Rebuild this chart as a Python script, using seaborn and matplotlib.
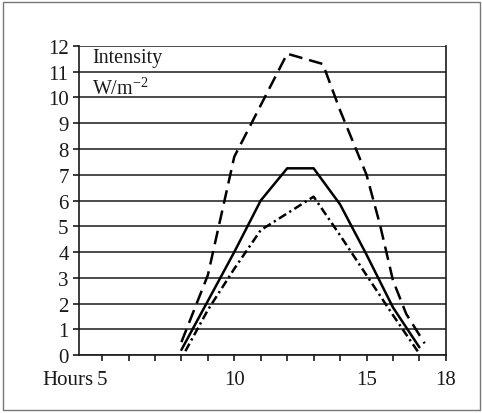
import matplotlib
matplotlib.use("Agg")
import matplotlib.pyplot as plt
from matplotlib.patches import Rectangle
import numpy as np
import pandas as pd
import seaborn as sns

# ---- data ----
hours_dashed = [8, 9, 10, 12, 13.35, 14, 15, 15.5, 16, 16.5, 17.2]
intensity_dashed = [0.5, 3.1, 7.7, 11.7, 11.3, 9.5, 7.0, 5.1, 2.9, 1.6, 0.45]

hours_solid = [8, 9, 10, 11, 12, 13, 14, 15, 16, 17]
intensity_solid = [0.2, 2.1, 4.0, 6.0, 7.25, 7.25, 5.85, 3.9, 1.85, 0.3]

hours_dashdot = [8.15, 9, 10, 11, 12, 13, 14, 15, 16, 17]
intensity_dashdot = [0.15, 1.75, 3.35, 4.85, 5.5, 6.15, 4.65, 3.1, 1.55, 0.05]

y_ticks = list(range(0, 13))
x_ticks = list(range(5, 19))
x_labelled = {5: "5", 10: "10", 15: "15", 18: "18"}

df = pd.concat([
    pd.DataFrame({"hour": hours_dashed, "intensity": intensity_dashed, "series": "dashed"}),
    pd.DataFrame({"hour": hours_solid, "intensity": intensity_solid, "series": "solid"}),
    pd.DataFrame({"hour": hours_dashdot, "intensity": intensity_dashdot, "series": "dashdot"}),
], ignore_index=True)

sns.set_style("white")
plt.rcParams["font.family"] = ["Liberation Serif", "DejaVu Serif"]
plt.rcParams["mathtext.fontset"] = "custom"
plt.rcParams["mathtext.rm"] = "Liberation Serif"
plt.rcParams["mathtext.it"] = "Liberation Serif:italic"

fig = plt.figure(figsize=(4.82, 4.14), dpi=100)
fig.patch.set_facecolor("white")
ax = fig.add_axes([0.164, 0.140, 0.761, 0.7465])

sns.lineplot(
    data=df, x="hour", y="intensity", style="series",
    dashes={"dashed": (5.5, 2.8), "solid": "", "dashdot": (3.4, 1.5, 0.9, 1.5)},
    color="black", lw=1.8, legend=False, ax=ax, sort=False, estimator=None,
)

ax.set_xlim(4.13, 18.0)
ax.set_ylim(0, 12)
ax.set_yticks(y_ticks)
ax.set_yticklabels([str(v) for v in y_ticks])
ax.set_xticks(x_ticks)
ax.set_xticklabels([x_labelled.get(v, "") for v in x_ticks])
ax.set_xlabel("")
ax.set_ylabel("")

ax.yaxis.grid(True, color="#1a1a1a", lw=1.1)
ax.xaxis.grid(False)
ax.set_axisbelow(True)

for side in ["left", "bottom", "right"]:
    ax.spines[side].set_visible(True)
    ax.spines[side].set_color("#1a1a1a")
    ax.spines[side].set_linewidth(1.2)
ax.spines["top"].set_visible(False)

ax.tick_params(axis="both", direction="out", length=4.5, width=1.2,
               color="#1a1a1a", labelsize=15, labelcolor="#1a1a1a")
ax.tick_params(axis="x", pad=6)
ax.tick_params(axis="y", pad=3, left=True)
ax.tick_params(axis="x", bottom=True)

ax.annotate("Hours", xy=(4.66, 0), xycoords=("data", "axes fraction"),
            xytext=(0, -10.5), textcoords="offset points",
            ha="right", va="top", fontsize=15, color="#1a1a1a")

ax.text(0.035, 11.38, "Intensity", transform=ax.get_yaxis_transform(),
        ha="left", va="baseline", fontsize=14.5, color="#1a1a1a")
ax.text(0.035, 10.14, r"W/m$^{\mathrm{-2}}$", transform=ax.get_yaxis_transform(),
        ha="left", va="baseline", fontsize=14.5, color="#1a1a1a")

fig.patches.append(Rectangle((0.006, 0.007), 0.99, 0.986, transform=fig.transFigure,
                             fill=False, edgecolor="#777777", lw=1.0))

fig.savefig("out.png", dpi=100)
